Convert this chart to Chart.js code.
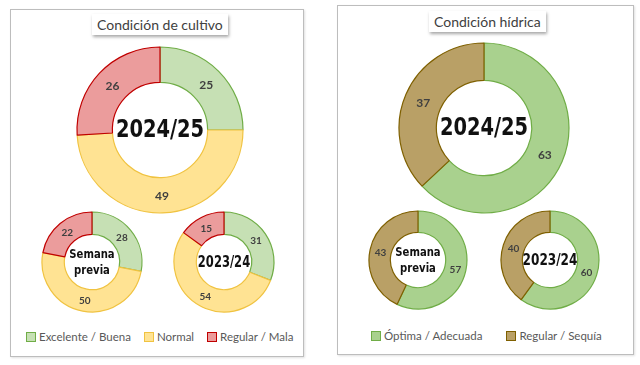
<!DOCTYPE html>
<html>
<head>
<meta charset="utf-8">
<script src="https://cdn.jsdelivr.net/npm/chart.js@4.4.1/dist/chart.umd.min.js"></script>
<style>
  body { margin: 0; background: #fff; }
  #page { position: relative; width: 640px; height: 365px; overflow: hidden; font-family: Lato, "Open Sans", sans-serif; }
  .panel { position: absolute; border: 1px solid #bdbdbd; background: #fff; box-shadow: 1px 1px 2px rgba(0,0,0,0.12); }
  .title { position: absolute; background: #fff; color: #404040; font-size: 14px; padding: 2px 5px 2px 5px;
           box-shadow: 1px 2px 3px rgba(0,0,0,0.35); white-space: nowrap; }
  .legend { position: absolute; font-size: 11.5px; color: #595959; white-space: nowrap; }
  .legend span.item { display: inline-block; }
  .legend i { display: inline-block; width: 8px; height: 8px; margin-right: 3px; vertical-align: -0.5px; border: 1px solid; }
  canvas { position: absolute; }
</style>
</head>
<body>
<div id="page">
  <div class="panel" style="left:10px;top:9px;width:292px;height:346px;"></div>
  <div class="panel" style="left:337px;top:5px;width:295px;height:348px;"></div>
  <div class="title" style="left:92px;top:14px;">Condición de cultivo</div>
  <div class="title" style="left:429px;top:11px;">Condición hídrica</div>
  <div class="legend" id="legCultivo" style="left:26px;top:330px;"></div>
  <div class="legend" id="legHidrica" style="left:371px;top:329px;"></div>
</div>
<script>
// categorias y valores (%)
const cultivoCategories = ['Excelente / Buena', 'Normal', 'Regular / Mala'];
const cultivoActual = [25, 49, 26];
const cultivoPrevia = [28, 50, 22];
const cultivoAnterior = [31, 54, 15];

const hidricaCategories = ['Óptima / Adecuada', 'Regular / Sequía'];
const hidricaActual = [63, 37];
const hidricaPrevia = [57, 43];
const hidricaAnterior = [60, 40];

const centerActual = ['2024/25'];
const centerPrevia = ['Semana', 'previa'];
const centerAnterior = ['2023/24'];

const cultivoFill = ['#c6e0b4', '#ffe393', '#eb9c9c'];
const cultivoBorder = ['#70ad47', '#f0c341', '#c00000'];
const hidricaFill = ['#a9d18e', '#b9a066'];
const hidricaBorder = ['#70ad47', '#7f6000'];

// texto central y etiquetas de valores
const donutText = {
  id: 'donutText',
  afterDatasetsDraw(chart, args, opts) {
    const ctx = chart.ctx;
    const meta = chart.getDatasetMeta(0);
    ctx.save();
    ctx.textAlign = 'center';
    ctx.textBaseline = 'middle';
    ctx.fillStyle = '#404040';
    ctx.font = 'bold ' + opts.valueSize + 'px Lato, "Open Sans", sans-serif';
    meta.data.forEach((arc, i) => {
      const p = arc.tooltipPosition();
      ctx.fillText(chart.data.datasets[0].data[i], p.x, p.y + 1);
    });
    const cx = (chart.chartArea.left + chart.chartArea.right) / 2;
    const cy = (chart.chartArea.top + chart.chartArea.bottom) / 2;
    ctx.fillStyle = '#111';
    ctx.font = 'bold ' + opts.centerSize + 'px "DejaVu Sans Condensed", sans-serif';
    ctx.translate(cx, cy);
    ctx.scale(opts.squeeze, 1);
    const lines = opts.lines;
    const lh = opts.lineHeight;
    lines.forEach((t, k) => {
      ctx.fillText(t, 0, (k - (lines.length - 1) / 2) * lh + 1);
    });
    ctx.restore();
  }
};

function donut(cx, cy, r, inner, labels, values, fill, border, lines, centerSize, squeeze, valueSize) {
  const size = 2 * r + 6;
  const cv = document.createElement('canvas');
  cv.width = size; cv.height = size;
  cv.style.left = (cx - size / 2) + 'px';
  cv.style.top = (cy - size / 2) + 'px';
  document.getElementById('page').appendChild(cv);
  new Chart(cv, {
    type: 'doughnut',
    data: {
      labels: labels,
      datasets: [{
        data: values,
        backgroundColor: fill,
        borderColor: border,
        borderWidth: 1.2,
        radius: r,
        cutout: inner
      }]
    },
    options: {
      responsive: false,
      animation: false,
      events: [],
      plugins: {
        legend: { display: false },
        tooltip: { enabled: false },
        donutText: { lines: lines, centerSize: centerSize, squeeze: squeeze, lineHeight: 16, valueSize: valueSize }
      }
    },
    plugins: [donutText]
  });
}

donut(160, 130, 83, 49, cultivoCategories, cultivoActual, cultivoFill, cultivoBorder, centerActual, 24, 0.9, 12);
donut(92, 262, 50, 29, cultivoCategories, cultivoPrevia, cultivoFill, cultivoBorder, centerPrevia, 13, 0.86, 10);
donut(224, 262, 50, 29, cultivoCategories, cultivoAnterior, cultivoFill, cultivoBorder, centerAnterior, 16, 0.8, 10);

donut(484, 128, 85, 49, hidricaCategories, hidricaActual, hidricaFill, hidricaBorder, centerActual, 24, 0.9, 12);
donut(418, 260, 49, 29, hidricaCategories, hidricaPrevia, hidricaFill, hidricaBorder, centerPrevia, 13, 0.86, 10);
donut(550, 260, 49, 29, hidricaCategories, hidricaAnterior, hidricaFill, hidricaBorder, centerAnterior, 16, 0.84, 10);

function legend(id, labels, fill, border, gap) {
  const el = document.getElementById(id);
  labels.forEach((t, i) => {
    const s = document.createElement('span');
    s.className = 'item';
    s.style.marginRight = gap + 'px';
    s.innerHTML = '<i style="background:' + fill[i] + ';border-color:' + border[i] + '"></i>' + t;
    el.appendChild(s);
  });
}
legend('legCultivo', cultivoCategories, cultivoFill, cultivoBorder, 13);
legend('legHidrica', hidricaCategories, hidricaFill, hidricaBorder, 24);
</script>
</body>
</html>
